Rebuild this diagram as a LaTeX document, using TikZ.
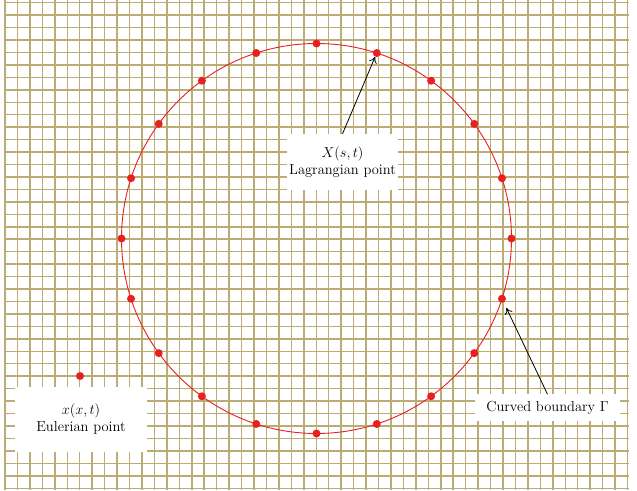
\documentclass[tikz,border=0pt]{standalone}
\usepackage{tikz}
\usetikzlibrary{arrows.meta}
\definecolor{gridcol}{RGB}{186,172,116}
\definecolor{ptred}{RGB}{232,32,32}

\begin{document}
\begin{tikzpicture}[x=1pt,y=1pt,
  dot/.style={circle,fill=ptred,inner sep=0pt,minimum size=8},
  lbl/.style={fill=white,align=center,inner sep=0pt,font=\fontsize{14.5}{17}\selectfont},
  arr/.style={-{To[length=6,width=8]},line width=0.8}]
\useasboundingbox (0,0) rectangle (637,490);
\fill[white] (0,0) rectangle (637,490);
% background mesh
\foreach \k in {0,...,50} {\draw[gridcol,line width=1.5] (5+12.45*\k,0)--(5+12.45*\k,490);}
\foreach \k in {0,...,39} {\draw[gridcol,line width=1.5] (4,487.3-12.45*\k)--(629,487.3-12.45*\k);}
% immersed boundary and its markers
\coordinate (o) at (316.5,251.5);
\draw[ptred,line width=0.9] (o) circle (195);
\foreach \i in {0,...,19} {\node[dot] (p\i) at ([shift={(90-18*\i:195)}]o) {};}
\node[dot] (eu) at (80,114) {};
% labels
\node[lbl,minimum width=111,minimum height=56] (lag) at (342.5,328) {$X(s,t)$\\Lagrangian point};
\node[lbl,minimum width=132,minimum height=65] (eul) at (81,70.5) {$x(x,t)$\\Eulerian point};
\node[lbl,minimum width=145,minimum height=27] (bnd) at (547.5,82) {Curved boundary $\Gamma$};
\draw[arr] (lag.north)--(p1);
\draw[arr,shorten >=6] (bnd.north)--(p6);
\end{tikzpicture}
\end{document}
